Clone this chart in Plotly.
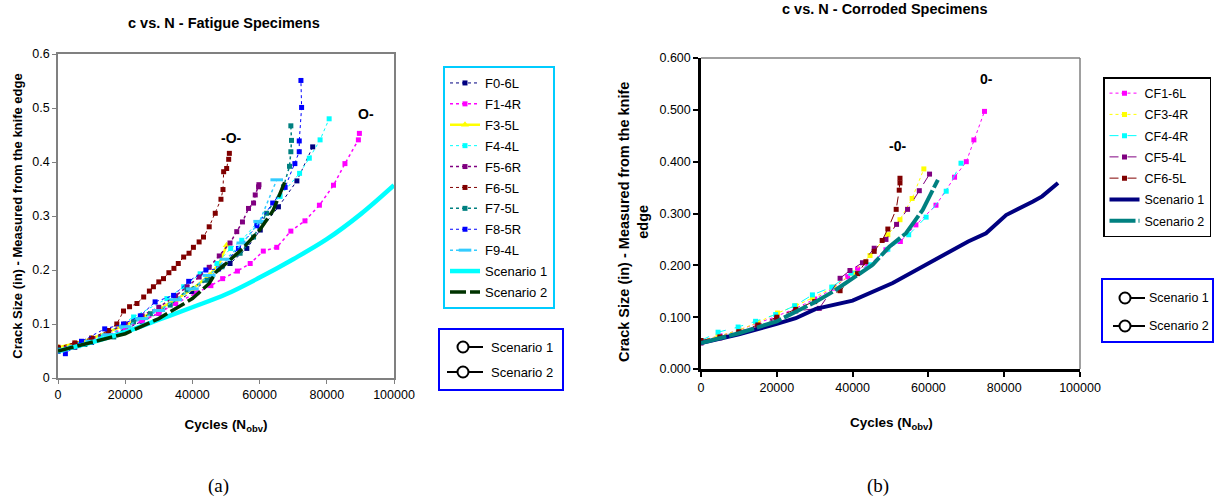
import plotly.graph_objects as go

W, H = 1214, 500

# ---------------- data: (a) fatigue specimens ----------------
x_ticks = [0, 20000, 40000, 60000, 80000, 100000]
x_ticklabels = ["0", "20000", "40000", "60000", "80000", "100000"]
ya_ticks = [0, 0.1, 0.2, 0.3, 0.4, 0.5, 0.6]
ya_ticklabels = ["0", "0.1", "0.2", "0.3", "0.4", "0.5", "0.6"]
yb_ticklabels = ["0.000", "0.100", "0.200", "0.300", "0.400", "0.500", "0.600"]

F0_6L_x = [0, 5000, 10000, 15000, 20000, 25000, 30000, 35000, 40000, 45000, 51200, 56200, 60200, 65600, 71100, 75800]
F0_6L_y = [0.05, 0.057, 0.066, 0.077, 0.09, 0.105, 0.12, 0.14, 0.16, 0.185, 0.212, 0.240, 0.274, 0.317, 0.365, 0.428]

F1_4R_x = [0, 5000, 10000, 15000, 20000, 25000, 30000, 35000, 41300, 45500, 49000, 53400, 57200, 61100, 65100, 69300, 73500, 77800, 82000, 85400, 89400, 89700]
F1_4R_y = [0.055, 0.062, 0.07, 0.08, 0.092, 0.106, 0.12, 0.138, 0.158, 0.171, 0.184, 0.198, 0.212, 0.235, 0.242, 0.272, 0.291, 0.320, 0.357, 0.397, 0.441, 0.453]

F3_5L_x = [0, 5000, 10000, 15000, 20000, 25000, 30000, 35000, 40000, 45000, 48000, 50200]
F3_5L_y = [0.057, 0.064, 0.073, 0.085, 0.098, 0.112, 0.127, 0.145, 0.165, 0.19, 0.212, 0.246]

F4_4L_x = [0, 6000, 12600, 22500, 32400, 37400, 42300, 47300, 51400, 54700, 59200, 66100, 71900, 74800, 78000, 80700]
F4_4L_y = [0.05, 0.062, 0.076, 0.113, 0.147, 0.169, 0.193, 0.212, 0.24, 0.255, 0.287, 0.336, 0.379, 0.407, 0.441, 0.48]

F5_6R_x = [0, 5000, 10000, 15000, 20000, 25000, 30000, 35000, 38400, 42000, 45000, 48000, 51200, 53200, 54900, 56700, 58200, 58700, 59700, 59800]
F5_6R_y = [0.055, 0.062, 0.072, 0.085, 0.1, 0.115, 0.131, 0.152, 0.169, 0.187, 0.205, 0.226, 0.25, 0.271, 0.289, 0.314, 0.324, 0.339, 0.354, 0.358]

F6_5L_x = [0, 5000, 10000, 15000, 17500, 19500, 21300, 23500, 25500, 27200, 28400, 30000, 31400, 33000, 34500, 35800, 37400, 39000, 40300, 42000, 43300, 45000, 46800, 48500, 49100, 49300, 50200, 50800, 51000]
F6_5L_y = [0.057, 0.065, 0.074, 0.088, 0.100, 0.124, 0.132, 0.138, 0.150, 0.161, 0.169, 0.178, 0.184, 0.195, 0.203, 0.212, 0.224, 0.231, 0.242, 0.252, 0.261, 0.280, 0.305, 0.331, 0.349, 0.382, 0.388, 0.405, 0.416]

F7_5L_x = [0, 8000, 16600, 22500, 27500, 33400, 38400, 44300, 48800, 54200, 58200, 62100, 67100, 68900, 69300, 69500, 69300]
F7_5L_y = [0.052, 0.062, 0.076, 0.104, 0.119, 0.135, 0.163, 0.181, 0.206, 0.231, 0.261, 0.305, 0.354, 0.392, 0.419, 0.44, 0.467]

F8_5R_x = [0, 2200, 7000, 13900, 19500, 24500, 28900, 34400, 38900, 44000, 47800, 53700, 59200, 63900, 67600, 70500, 71800, 71800, 72500, 72300]
F8_5R_y = [0.05, 0.045, 0.068, 0.091, 0.1, 0.115, 0.141, 0.153, 0.179, 0.2, 0.202, 0.240, 0.282, 0.324, 0.353, 0.397, 0.419, 0.439, 0.501, 0.551]

F9_4L_x = [0, 5000, 10000, 15000, 20000, 25000, 30000, 35000, 40000, 45000, 50000, 55000, 60000, 65100]
F9_4L_y = [0.05, 0.058, 0.068, 0.08, 0.095, 0.11, 0.125, 0.145, 0.165, 0.19, 0.22, 0.25, 0.29, 0.367]

A_S1_x = [0, 10000, 20000, 30000, 40000, 50000, 60000, 70000, 80000, 90000, 100000]
A_S1_y = [0.05, 0.066, 0.085, 0.108, 0.131, 0.155, 0.186, 0.22, 0.257, 0.303, 0.357]

A_S2_x = [0, 10000, 20000, 30000, 40000, 45000, 47000, 50000, 55000, 60000, 64000, 67500]
A_S2_y = [0.05, 0.066, 0.082, 0.11, 0.147, 0.175, 0.196, 0.212, 0.24, 0.274, 0.31, 0.363]

A_marks_x = [51500, 91700]
A_marks_y = [0.445, 0.489]
A_marks_text = ["-O-", "O-"]

# ---------------- data: (b) corroded specimens ----------------
CF1_6L_x = [0, 5000, 10000, 15000, 20000, 25000, 30000, 35000, 38700, 41300, 44000, 48800, 52600, 56700, 62000, 66900, 70000, 72000, 74800]
CF1_6L_y = [0.055, 0.064, 0.075, 0.088, 0.102, 0.117, 0.135, 0.156, 0.178, 0.193, 0.198, 0.230, 0.246, 0.278, 0.316, 0.370, 0.40, 0.442, 0.497]

CF3_4R_x = [0, 4500, 10000, 15000, 20200, 25000, 29400, 35000, 40000, 44600, 49300, 52500, 55700, 58800]
CF3_4R_y = [0.055, 0.063, 0.075, 0.09, 0.108, 0.122, 0.137, 0.158, 0.185, 0.219, 0.259, 0.288, 0.329, 0.386]

CF4_4R_x = [0, 4500, 9800, 14400, 19700, 24700, 29400, 34500, 39600, 44600, 49300, 54800, 59400, 64700, 68600]
CF4_4R_y = [0.055, 0.071, 0.081, 0.092, 0.105, 0.122, 0.143, 0.158, 0.185, 0.201, 0.231, 0.259, 0.293, 0.343, 0.397]

CF5_4L_x = [0, 5000, 10000, 15000, 20000, 25000, 31200, 36700, 39300, 42600, 45700, 48800, 51600, 54500, 57600, 60300]
CF5_4L_y = [0.05, 0.06, 0.07, 0.083, 0.098, 0.112, 0.117, 0.175, 0.190, 0.205, 0.233, 0.250, 0.279, 0.308, 0.344, 0.376]

CF6_5L_x = [0, 5000, 10000, 15000, 20000, 25000, 30000, 36700, 41300, 43500, 45700, 47800, 49300, 51500, 52300, 52500, 52500]
CF6_5L_y = [0.055, 0.062, 0.072, 0.085, 0.1, 0.115, 0.13, 0.151, 0.184, 0.207, 0.227, 0.248, 0.270, 0.308, 0.345, 0.359, 0.368]

B_S1_x = [0, 10000, 20000, 25000, 30300, 40000, 50600, 59400, 68200, 70500, 75200, 80500, 87600, 90000, 94200]
B_S1_y = [0.05, 0.067, 0.087, 0.098, 0.116, 0.132, 0.166, 0.201, 0.236, 0.246, 0.262, 0.297, 0.323, 0.333, 0.359]

B_S2_x = [0, 10000, 20000, 30300, 35000, 40000, 45300, 49700, 54100, 58500, 62500]
B_S2_y = [0.05, 0.069, 0.092, 0.13, 0.15, 0.175, 0.201, 0.236, 0.262, 0.307, 0.365]

B_marks_x = [51900, 75200]
B_marks_y = [0.431, 0.560]
B_marks_text = ["-0-", "0-"]

# ---------------- helpers ----------------
FONT = "Liberation Sans, Arial, sans-serif"


def PX(px):
    return px / W


def PY(py):
    return 1 - py / H


fig = go.Figure()

fat_series = [
    ("F0-6L", F0_6L_x, F0_6L_y, "#000080", "dot", 1, "square", 5),
    ("F1-4R", F1_4R_x, F1_4R_y, "#FF00FF", "dot", 1.5, "square", 5),
    ("F3-5L", F3_5L_x, F3_5L_y, "#FFFF00", "solid", 2.5, "triangle-up", 7),
    ("F4-4L", F4_4L_x, F4_4L_y, "#00FFFF", "dot", 1, "square", 5),
    ("F5-6R", F5_6R_x, F5_6R_y, "#800080", "dot", 1.5, "square", 5),
    ("F6-5L", F6_5L_x, F6_5L_y, "#800000", "dot", 1, "square", 5),
    ("F7-5L", F7_5L_x, F7_5L_y, "#008080", "dot", 1.5, "square", 5),
    ("F8-5R", F8_5R_x, F8_5R_y, "#0000FF", "dot", 1, "square", 5),
]
for name, xs, ys, col, dash, lw, sym, ms in fat_series:
    fig.add_trace(go.Scatter(x=xs, y=ys, name=name, mode="lines+markers",
                             line=dict(color=col, dash=dash, width=lw),
                             marker=dict(color=col, symbol=sym, size=ms),
                             legendgroup="a_" + name,
                             xaxis="x", yaxis="y", legend="legend"))
fig.add_trace(go.Scatter(x=F9_4L_x, y=F9_4L_y, name="F9-4L", mode="lines+markers",
                         line=dict(color="#33CCFF", dash="dot", width=1.5),
                         marker=dict(color="#33CCFF", symbol="line-ew", size=9,
                                     line=dict(color="#33CCFF", width=3)),
                         legendgroup="a_F9",
                         xaxis="x", yaxis="y", legend="legend"))
fig.add_trace(go.Scatter(x=A_S1_x, y=A_S1_y, name="Scenario 1", mode="lines",
                         line=dict(color="#00FFFF", width=4.5, shape="spline"),
                         legendgroup="a_S1",
                         xaxis="x", yaxis="y", legend="legend"))
fig.add_trace(go.Scatter(x=A_S2_x, y=A_S2_y, name="Scenario 2", mode="lines",
                         line=dict(color="#003300", width=3.5, dash="16px,4px"),
                         legendgroup="a_S2",
                         xaxis="x", yaxis="y", legend="legend"))

cor_series = [
    ("CF1-6L", CF1_6L_x, CF1_6L_y, "#FF00FF", "dot"),
    ("CF3-4R", CF3_4R_x, CF3_4R_y, "#FFFF00", "dot"),
    ("CF4-4R", CF4_4R_x, CF4_4R_y, "#00FFFF", "dash"),
    ("CF5-4L", CF5_4L_x, CF5_4L_y, "#800080", "dash"),
    ("CF6-5L", CF6_5L_x, CF6_5L_y, "#800000", "dash"),
]
for name, xs, ys, col, dash in cor_series:
    fig.add_trace(go.Scatter(x=xs, y=ys, name=name, mode="lines+markers",
                             line=dict(color=col, dash=dash, width=1),
                             marker=dict(color=col, symbol="square", size=5),
                             legendgroup="b_" + name,
                             xaxis="x2", yaxis="y2", legend="legend2"))
fig.add_trace(go.Scatter(x=B_S1_x, y=B_S1_y, name="Scenario 1", mode="lines",
                         line=dict(color="#000080", width=4),
                         legendgroup="b_S1",
                         xaxis="x2", yaxis="y2", legend="legend2"))
fig.add_trace(go.Scatter(x=B_S2_x, y=B_S2_y, name="Scenario 2", mode="lines",
                         line=dict(color="#008080", width=4, dash="26px,3px"),
                         legendgroup="b_S2",
                         xaxis="x2", yaxis="y2", legend="legend2"))

# chart text markers
for xv, yv, t in zip(A_marks_x, A_marks_y, A_marks_text):
    fig.add_annotation(x=xv, y=yv, xref="x", yref="y", text=t,
                       xanchor="center", yanchor="middle", showarrow=False,
                       font=dict(family=FONT, size=14, color="black", weight="bold"))
for xv, yv, t in zip(B_marks_x, B_marks_y, B_marks_text):
    fig.add_annotation(x=xv, y=yv, xref="x2", yref="y2", text=t,
                       xanchor="center", yanchor="middle", showarrow=False,
                       font=dict(family=FONT, size=14, color="black", weight="bold"))

tickfont = dict(family=FONT, size=12.5, color="black")


def atitle(text, size):
    return dict(text=text, font=dict(family=FONT, size=size, color="black"))


fig.update_layout(
    template="none",
    width=W, height=H,
    margin=dict(l=0, r=0, t=0, b=0, pad=0, autoexpand=False),
    paper_bgcolor="white", plot_bgcolor="white",
    showlegend=True,
    xaxis=dict(domain=[PX(58), PX(394)], anchor="y", range=[0, 100000], automargin=False,
               title=atitle("<b>Cycles (N<sub>obv</sub>)</b>", 13.5),
               tickvals=x_ticks, ticktext=x_ticklabels, ticks="outside", ticklen=4,
               tickcolor="#808080", showline=True, linecolor="#808080", linewidth=1.5,
               mirror=True, showgrid=False, zeroline=False, tickfont=tickfont),
    yaxis=dict(domain=[PY(378), PY(54)], anchor="x", range=[0, 0.6], automargin=False,
               title=atitle("<b>Crack Size (in) - Measured from the knife edge</b>", 13),
               tickvals=ya_ticks, ticktext=ya_ticklabels, ticks="outside", ticklen=4,
               tickcolor="#808080", showline=True, linecolor="#808080", linewidth=1.5,
               mirror=True, showgrid=False, zeroline=False, tickfont=tickfont),
    xaxis2=dict(domain=[PX(701), PX(1080)], anchor="y2", range=[0, 100000], automargin=False,
                tickvals=x_ticks, ticktext=x_ticklabels, ticks="outside", ticklen=5,
                tickcolor="black", tickwidth=2, showline=True, linecolor="black", linewidth=2.5,
                showgrid=False, zeroline=False, tickfont=tickfont),
    yaxis2=dict(domain=[PY(369), PY(58)], anchor="x2", range=[0, 0.6], automargin=False,
                tickvals=ya_ticks, ticktext=yb_ticklabels, ticks="outside", ticklen=5,
                tickcolor="black", tickwidth=2, showline=True, linecolor="black", linewidth=2.5,
                showgrid=False, zeroline=False, tickfont=tickfont),
    legend=dict(x=PX(443), y=PY(66), xanchor="left", yanchor="top",
                bordercolor="#00CCFF", borderwidth=2, bgcolor="white",
                font=dict(family=FONT, size=13, color="black"), tracegroupgap=1,
                traceorder="grouped"),
    legend2=dict(x=PX(1103), y=PY(77), xanchor="left", yanchor="top",
                 bordercolor="black", borderwidth=1.5, bgcolor="white",
                 font=dict(family=FONT, size=12.5, color="black"), tracegroupgap=2,
                 traceorder="grouped"),
)

# right plot frame (gray top / right)
fig.add_shape(type="line", xref="x2 domain", yref="y2 domain", x0=0, x1=1, y0=1, y1=1,
              line=dict(color="#808080", width=1.5))
fig.add_shape(type="line", xref="x2 domain", yref="y2 domain", x0=1, x1=1, y0=0, y1=1,
              line=dict(color="#808080", width=1.5))


def label(px, py, text, size, angle=0, family=FONT, anchor="center"):
    fig.add_annotation(x=PX(px), y=PY(py), xref="paper", yref="paper", showarrow=False,
                       xanchor=anchor, yanchor="middle", textangle=angle, text=text,
                       font=dict(family=family, size=size, color="black"))


# chart titles, right axis titles and panel labels
label(224, 23, "<b>c vs. N - Fatigue Specimens</b>", 14.5)
label(884, 9, "<b>c vs. N - Corroded Specimens</b>", 14.5)
label(891, 423, "<b>Cycles (N<sub>obv</sub>)</b>", 13.5)
label(634, 222, "<b>Crack Size (in) - Measured from the knife<br>edge</b>", 14.5, angle=-90)
label(218, 486, "(a)", 19, family="Liberation Serif, Times New Roman, serif")
label(878, 486, "(b)", 19, family="Liberation Serif, Times New Roman, serif")


# scenario key boxes
def key_box(x0, y0, x1, y1, items, fsize):
    fig.add_shape(type="rect", xref="paper", yref="paper", x0=PX(x0), x1=PX(x1), y0=PY(y1), y1=PY(y0),
                  line=dict(color="#0000FF", width=2), fillcolor="white")
    for cx, cy, lx0, lx1, tx, text in items:
        r = 5.5
        fig.add_shape(type="line", xref="paper", yref="paper", x0=PX(lx0), x1=PX(lx1), y0=PY(cy), y1=PY(cy),
                      line=dict(color="black", width=2))
        fig.add_shape(type="circle", xref="paper", yref="paper", x0=PX(cx - r), x1=PX(cx + r),
                      y0=PY(cy + r), y1=PY(cy - r), line=dict(color="black", width=2), fillcolor="white")
        label(tx, cy, text, fsize, anchor="left")


key_box(439, 329, 563, 390, [(463, 347, 463, 483, 489, "Scenario 1"),
                             (463, 372, 447, 483, 489, "Scenario 2")], 13)
key_box(1102, 279, 1213, 342, [(1125, 298, 1125, 1145, 1147, "Scenario 1"),
                               (1125, 326, 1113, 1145, 1147, "Scenario 2")], 12.5)

fig.write_html("out.html", config={"displayModeBar": False},
               post_script="document.body.style.margin='0px';")
